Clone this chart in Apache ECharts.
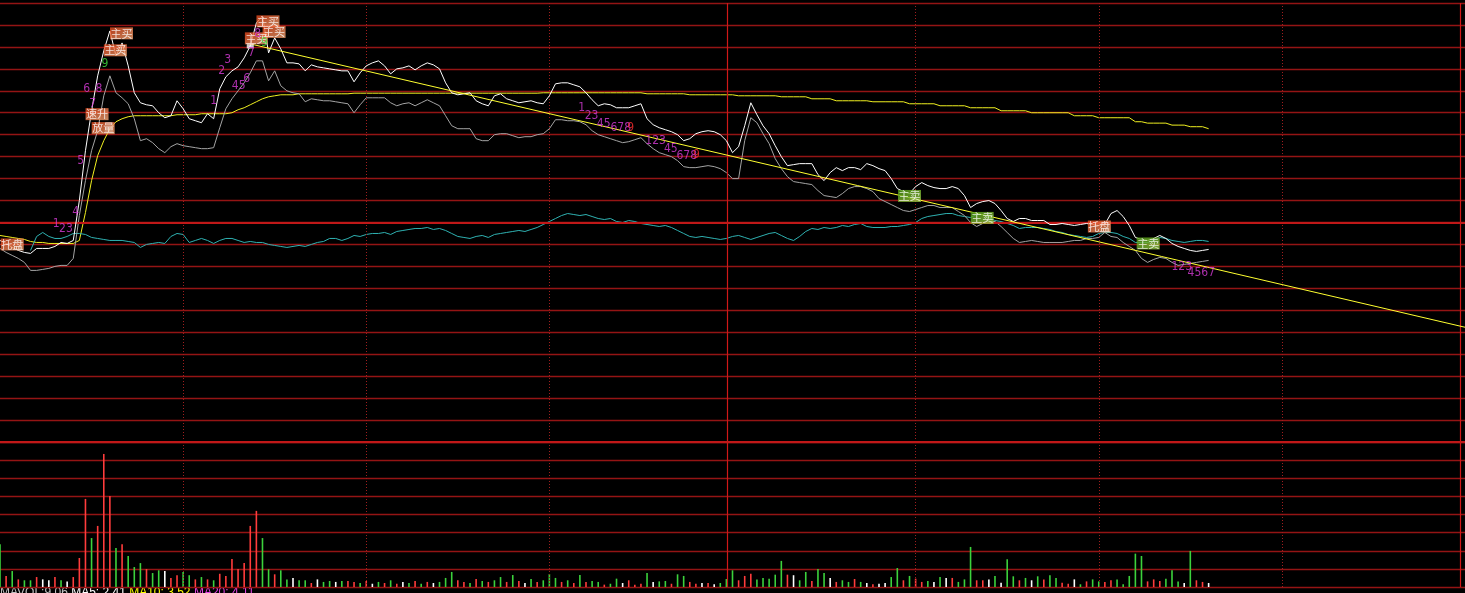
<!DOCTYPE html>
<html>
<head>
<meta charset="utf-8">
<script src="https://cdn.jsdelivr.net/npm/echarts/dist/echarts.min.js"></script>
<style>
html, body { margin: 0; padding: 0; background: #000; }
#chart { width: 1465px; height: 593px; }
</style>
</head>
<body>
<div id="chart"></div>
<script>
// 分时数据 (minute index 0..198)
const priceLine = [
  10.910,10.895,10.875,10.860,10.850,10.845,10.870,10.870,10.870,10.880,
  10.900,10.895,10.910,11.110,11.360,11.560,11.735,11.860,11.960,11.835,
  11.900,11.785,11.650,11.600,11.590,11.585,11.550,11.525,11.535,11.610,
  11.570,11.520,11.510,11.500,11.545,11.520,11.670,11.730,11.760,11.780,
  11.825,11.885,12.000,12.035,11.850,11.925,11.870,11.800,11.800,11.795,
  11.760,11.790,11.780,11.775,11.770,11.765,11.760,11.760,11.705,11.750,
  11.785,11.800,11.810,11.785,11.745,11.770,11.775,11.785,11.765,11.785,
  11.800,11.790,11.770,11.700,11.650,11.640,11.645,11.650,11.610,11.595,
  11.585,11.635,11.645,11.620,11.610,11.600,11.605,11.610,11.600,11.595,
  11.635,11.695,11.700,11.700,11.690,11.680,11.650,11.615,11.585,11.595,
  11.590,11.575,11.575,11.575,11.585,11.595,11.520,11.490,11.475,11.465,
  11.455,11.440,11.410,11.420,11.445,11.455,11.460,11.455,11.440,11.410,
  11.350,11.380,11.485,11.600,11.540,11.485,11.445,11.385,11.330,11.285,
  11.290,11.295,11.295,11.295,11.240,11.210,11.250,11.275,11.260,11.275,
  11.275,11.265,11.295,11.285,11.270,11.260,11.220,11.170,11.155,11.145,
  11.180,11.200,11.185,11.175,11.170,11.170,11.180,11.170,11.135,11.075,
  11.095,11.105,11.110,11.095,11.060,11.020,11.005,11.020,11.020,11.010,
  11.010,11.010,10.990,10.990,10.995,10.990,10.985,10.990,10.995,10.990,
  10.985,10.990,11.045,11.060,11.030,10.985,10.925,10.915,10.910,10.920,
  10.935,10.920,10.895,10.880,10.870,10.860,10.855,10.860,10.865
];
const leadLine = [
  10.870,10.850,10.835,10.820,10.800,10.760,10.760,10.765,10.770,10.780,
  10.785,10.785,10.820,11.035,11.210,11.360,11.460,11.635,11.735,11.650,
  11.625,11.595,11.520,11.410,11.420,11.400,11.370,11.350,11.380,11.395,
  11.385,11.380,11.375,11.370,11.370,11.375,11.475,11.570,11.620,11.660,
  11.700,11.750,11.810,11.810,11.710,11.760,11.685,11.660,11.650,11.645,
  11.605,11.620,11.615,11.610,11.610,11.605,11.600,11.595,11.550,11.590,
  11.625,11.625,11.625,11.625,11.600,11.585,11.595,11.600,11.585,11.600,
  11.615,11.600,11.585,11.535,11.485,11.470,11.470,11.470,11.420,11.410,
  11.410,11.440,11.445,11.445,11.435,11.425,11.430,11.430,11.440,11.445,
  11.470,11.515,11.515,11.510,11.510,11.505,11.490,11.460,11.440,11.430,
  11.420,11.410,11.400,11.405,11.415,11.425,11.395,11.370,11.350,11.340,
  11.330,11.310,11.280,11.275,11.275,11.280,11.285,11.280,11.270,11.250,
  11.220,11.220,11.410,11.525,11.500,11.445,11.395,11.320,11.270,11.230,
  11.205,11.200,11.195,11.190,11.160,11.135,11.130,11.125,11.145,11.170,
  11.180,11.180,11.170,11.155,11.120,11.105,11.090,11.075,11.060,11.055,
  11.065,11.075,11.085,11.085,11.075,11.075,11.075,11.055,11.035,11.000,
  10.980,10.995,11.005,11.005,10.980,10.950,10.920,10.900,10.905,10.910,
  10.905,10.900,10.900,10.900,10.900,10.905,10.910,10.910,10.920,10.920,
  10.925,10.950,10.930,10.925,10.900,10.880,10.860,10.820,10.800,10.815,
  10.825,10.820,10.800,10.785,10.790,10.795,10.800,10.805,10.810
];
const avgLine = [
  10.935,10.930,10.925,10.920,10.915,10.905,10.900,10.900,10.895,10.895,
  10.895,10.895,10.895,10.910,11.050,11.210,11.335,11.410,11.470,11.505,
  11.520,11.530,11.535,11.535,11.535,11.535,11.535,11.535,11.535,11.540,
  11.540,11.540,11.540,11.545,11.545,11.545,11.545,11.545,11.550,11.565,
  11.575,11.590,11.605,11.620,11.630,11.635,11.640,11.640,11.640,11.645,
  11.645,11.645,11.645,11.645,11.645,11.645,11.645,11.645,11.648,11.648,
  11.648,11.648,11.648,11.648,11.648,11.648,11.648,11.648,11.648,11.648,
  11.648,11.648,11.648,11.648,11.648,11.648,11.648,11.648,11.648,11.648,
  11.648,11.648,11.648,11.648,11.648,11.648,11.648,11.648,11.648,11.650,
  11.650,11.650,11.650,11.650,11.650,11.650,11.650,11.650,11.650,11.650,
  11.650,11.650,11.650,11.650,11.650,11.650,11.645,11.645,11.645,11.645,
  11.645,11.645,11.645,11.640,11.640,11.640,11.640,11.640,11.640,11.640,
  11.640,11.635,11.635,11.635,11.635,11.635,11.635,11.635,11.630,11.630,
  11.630,11.630,11.630,11.620,11.620,11.620,11.620,11.610,11.610,11.610,
  11.610,11.610,11.610,11.605,11.605,11.605,11.605,11.605,11.605,11.595,
  11.595,11.595,11.595,11.595,11.585,11.585,11.585,11.585,11.585,11.575,
  11.575,11.575,11.575,11.575,11.560,11.560,11.560,11.560,11.560,11.550,
  11.550,11.550,11.550,11.550,11.550,11.550,11.535,11.535,11.535,11.535,
  11.525,11.525,11.525,11.525,11.525,11.525,11.505,11.505,11.498,11.498,
  11.498,11.498,11.488,11.488,11.488,11.480,11.480,11.480,11.470
];
const indexLine = [
  '-','-','-','-','-',10.860,10.930,10.950,10.930,10.920,
  10.920,10.930,10.945,10.945,10.940,10.925,10.920,10.915,10.910,10.910,
  10.910,10.905,10.900,10.875,10.890,10.895,10.900,10.895,10.930,10.945,
  10.940,10.900,10.910,10.920,10.910,10.895,10.910,10.920,10.920,10.910,
  10.900,10.905,10.900,10.900,10.890,10.885,10.880,10.875,10.880,10.885,
  10.880,10.890,10.900,10.905,10.920,10.920,10.910,10.920,10.935,10.930,
  10.940,10.945,10.945,10.950,10.940,10.955,10.960,10.965,10.970,10.970,
  10.975,10.965,10.970,10.960,10.945,10.930,10.925,10.920,10.930,10.935,
  10.925,10.940,10.945,10.950,10.955,10.960,10.955,10.965,10.975,10.990,
  11.005,11.020,11.035,11.045,11.040,11.035,11.040,11.030,11.020,11.015,
  11.020,11.005,11.000,11.010,11.005,10.995,10.990,10.985,10.980,10.985,
  10.975,10.960,10.945,10.930,10.925,10.930,10.925,10.920,10.915,10.920,
  10.930,10.935,10.925,10.915,10.925,10.935,10.945,10.950,10.935,10.920,
  10.910,10.930,10.955,10.970,10.965,10.975,10.970,10.975,10.985,10.980,
  10.990,10.995,10.980,10.975,10.975,10.975,10.980,10.980,10.985,10.990,
  11.000,11.020,11.030,11.035,11.040,11.045,11.045,11.035,11.030,11.025,
  11.040,11.040,11.025,11.010,11.005,10.995,10.985,10.970,10.975,10.975,
  10.975,10.970,10.965,10.955,10.950,10.940,10.935,10.930,10.925,10.930,
  10.945,10.950,10.950,10.945,10.930,10.920,10.900,10.900,10.900,10.910,
  10.925,10.920,10.910,10.905,10.900,10.905,10.910,10.910,10.905
];
// 成交量 and tick direction (1 up / -1 down / 0 flat)
const volume = [
  236,61,88,42,37,37,55,42,37,55,
  37,31,55,160,486,270,337,734,502,215,
  236,171,110,132,99,77,92,88,50,65,
  83,65,42,55,42,37,73,61,155,99,
  132,337,420,270,98,70,92,42,50,37,
  37,22,42,28,33,28,33,33,28,22,
  33,18,28,22,37,18,28,22,33,18,
  28,22,28,50,83,37,28,22,44,33,
  28,37,55,28,66,33,22,44,28,37,
  72,50,28,37,22,66,28,33,28,13,
  18,46,22,37,13,18,77,28,31,33,
  18,70,61,28,18,22,22,15,22,44,
  92,37,61,73,42,50,46,68,144,68,
  65,37,83,33,99,77,50,28,37,28,
  44,28,22,15,18,22,55,105,37,61,
  46,28,33,28,55,50,50,28,42,221,
  37,37,42,61,24,153,59,37,50,37,
  59,42,65,50,24,18,42,15,31,42,
  31,28,37,42,15,61,184,171,31,42,
  33,46,92,31,22,199,37,28,22
];
const tickDir = [
  -1,1,-1,1,-1,-1,1,0,0,1,
  -1,0,1,1,1,-1,1,1,1,-1,
  1,-1,-1,-1,1,-1,-1,0,1,1,
  -1,-1,1,-1,1,-1,1,1,1,1,
  1,1,1,-1,-1,1,-1,-1,0,-1,
  -1,1,0,-1,-1,0,-1,1,1,-1,
  1,0,-1,1,-1,1,0,-1,1,-1,
  1,0,-1,-1,-1,1,1,-1,1,-1,
  1,-1,-1,1,-1,1,0,-1,1,-1,
  -1,-1,1,-1,1,-1,1,-1,-1,1,
  -1,-1,0,1,1,1,-1,0,-1,-1,
  1,-1,-1,1,1,0,1,0,-1,-1,
  -1,1,1,1,-1,-1,-1,-1,-1,1,
  0,-1,-1,1,-1,-1,0,1,-1,-1,
  1,-1,0,1,0,0,-1,-1,1,-1,
  1,1,-1,0,-1,0,1,-1,-1,-1,
  1,1,0,-1,0,-1,-1,1,-1,0,
  -1,1,-1,-1,1,1,0,-1,1,-1,
  -1,1,1,-1,-1,-1,-1,-1,1,1,
  1,-1,-1,-1,0,-1,1,1,0
];
// 趋势线 (two ends)
const trendMinutes = [41, 240];
const trendPrices = [11.895, 10.475];

// 信号标签
const boxMinutes = [2, 15.9, 16.9, 42, 19.9, 18.9, 43.9, 44.9, 149, 160.9, 180.1, 188.1];
const boxPrices = [10.89, 11.543, 11.473, 11.923, 11.948, 11.863, 12.008, 11.955, 11.133, 11.023, 10.98, 10.895];
const boxTexts = ['托盘', '速升', '放量', '主买', '主买', '主买', '主买', '主买', '主卖', '主卖', '托盘', '主卖'];

// 计数 (9 = signal: 1 buy / 2 sell)
const countMinutes = [9.2, 10.8, 12.4, 13.2, 14.2, 15.2, 16.2, 17.2, 35, 36.3, 37.3, 39.1, 40.4, 41.2, 42.2, 43.3,
  95.3, 96.9, 98.9, 101.7, 103.3, 107.4, 109.9, 112.5, 114.1, 193.6, 196.8];
const countPrices = [10.995, 10.97, 11.055, 11.31, 11.67, 11.595, 11.67, 11.795, 11.61, 11.76, 11.815, 11.685, 11.72, 11.85, 11.945, 11.90,
  11.575, 11.535, 11.495, 11.475, 11.475, 11.41, 11.37, 11.335, 11.34, 10.78, 10.75];
const countTexts = ['1', '23', '4', '5', '6', '7', '8', '9', '1', '2', '3', '45', '6', '7', '8', '9',
  '1', '23', '45', '678', '9', '123', '45', '678', '9', '123', '4567'];
const countSignal = [0, 0, 0, 0, 0, 0, 0, 1, 0, 0, 0, 0, 0, 0, 0, 1,
  0, 0, 0, 0, 2, 0, 0, 0, 2, 0, 0];

const gridRed = '#941414';
const pair = arr => arr.map((v, i) => [i, v]);

const vLines = {
  silent: true,
  symbol: ['none', 'none'],
  label: { show: false },
  animation: false,
  lineStyle: { color: '#a01e1e', type: [1, 2], width: 1 },
  data: [
    ...[30, 60, 90, 150, 180, 210].map(v => ({ xAxis: v })),
    { xAxis: 119.2, lineStyle: { type: 'solid', color: '#d01818', width: 1.2 } },
    { xAxis: 239.2, lineStyle: { type: 'solid', color: '#d01818', width: 1.2 } }
  ]
};

const chart = echarts.init(document.getElementById('chart'));

const hideAxis = {
  axisLine: { show: false }, axisTick: { show: false }, axisLabel: { show: false }
};

const option = {
  backgroundColor: '#000',
  animation: false,
  grid: [
    { left: 0, top: 3, width: 1468, height: 439 },
    { left: 0, top: 442, width: 1468, height: 145 }
  ],
  xAxis: [
    { gridIndex: 0, type: 'value', min: 0, max: 240, splitLine: { show: false }, ...hideAxis },
    { gridIndex: 1, type: 'value', min: 0, max: 240, splitLine: { show: false }, ...hideAxis }
  ],
  yAxis: [
    { gridIndex: 0, type: 'value', min: 9.90, max: 12.10, interval: 0.11, ...hideAxis,
      splitLine: { lineStyle: { color: gridRed, width: 1.3 } } },
    { gridIndex: 1, type: 'value', min: 0, max: 800, interval: 100, ...hideAxis,
      splitLine: { lineStyle: { color: gridRed, width: 1.3 } } }
  ],
  series: [
    {
      name: '均线', type: 'line', data: pair(avgLine), showSymbol: false,
      lineStyle: { color: '#f0f020', width: 1 }, z: 3,
      markLine: vLines
    },
    {
      name: '指数', type: 'line', data: pair(indexLine), showSymbol: false, connectNulls: false,
      lineStyle: { color: '#2fb2b2', width: 1 }, z: 3,
      markLine: {
        silent: true, symbol: ['none', 'none'], label: { show: false },
        data: [{ yAxis: 11.00, lineStyle: { color: '#c01818', width: 2, type: 'solid' } }]
      }
    },
    {
      name: '领先', type: 'line', data: pair(leadLine), showSymbol: false,
      lineStyle: { color: '#a4a4a4', width: 1 }, z: 4
    },
    {
      name: '价格', type: 'line', data: pair(priceLine), showSymbol: false,
      lineStyle: { color: '#ffffff', width: 1 }, z: 5
    },
    {
      name: '趋势', type: 'line', data: trendMinutes.map((m, i) => [m, trendPrices[i]]), showSymbol: false,
      lineStyle: { color: '#ffff30', width: 1 }, z: 6
    },
    {
      name: '起点', type: 'scatter', data: [[trendMinutes[0], trendPrices[0] - 0.01]],
      symbol: 'rect', symbolSize: [7, 5], itemStyle: { color: '#ffffff' }, z: 8
    },
    {
      name: '标签', type: 'scatter', z: 9,
      symbol: 'rect', symbolSize: [23, 12],
      data: boxTexts.map((t, i) => ({
        value: [boxMinutes[i], boxPrices[i]], name: t,
        itemStyle: {
          color: new echarts.graphic.LinearGradient(0, 0, 1, 1, t === '主卖'
            ? [{ offset: 0, color: '#4f9a12' }, { offset: 1, color: '#9ccc48' }]
            : [{ offset: 0, color: '#e4461a' }, { offset: 1, color: '#f6aa78' }])
        }
      })),
      label: {
        show: true, position: 'inside', formatter: p => p.name,
        color: '#ffffff', fontSize: 11, fontFamily: 'Noto Sans CJK SC'
      }
    },
    {
      name: '计数', type: 'scatter', z: 10,
      symbolSize: 1, itemStyle: { color: 'rgba(0,0,0,0)' },
      data: countTexts.map((t, i) => ({
        value: [countMinutes[i], countPrices[i]], name: t,
        label: { color: countSignal[i] === 1 ? '#3ee03e' : countSignal[i] === 2 ? '#ff3030' : '#d83cd8' }
      })),
      label: {
        show: true, position: 'inside', formatter: p => p.name,
        fontSize: 12, fontFamily: 'DejaVu Sans Condensed, Liberation Sans', letterSpacing: -1
      }
    },
    {
      name: '成交量', type: 'bar', xAxisIndex: 1, yAxisIndex: 1, barWidth: 1.6,
      data: volume.map((v, i) => ({
        value: [i, v],
        itemStyle: { color: tickDir[i] > 0 ? '#ff3c3c' : tickDir[i] < 0 ? '#3cd23c' : '#ffffff' }
      })),
      markLine: {
        ...vLines,
        data: [...vLines.data, { yAxis: 800, lineStyle: { color: '#c01818', width: 2, type: 'solid' } }]
      }
    }
  ],
  graphic: [{
    type: 'text', left: 0, top: 587, silent: true,
    style: {
      text: '{a|MAVOL:9.06} {b|MA5: 2.41} {c|MA10: 3.52} {d|MA20: 4.11}',
      rich: {
        a: { fill: '#c0c0c0', fontSize: 12 },
        b: { fill: '#ffffff', fontSize: 12 },
        c: { fill: '#ffff00', fontSize: 12 },
        d: { fill: '#e040e0', fontSize: 12 }
      }
    }
  }]
};

chart.setOption(option);
</script>
</body>
</html>
